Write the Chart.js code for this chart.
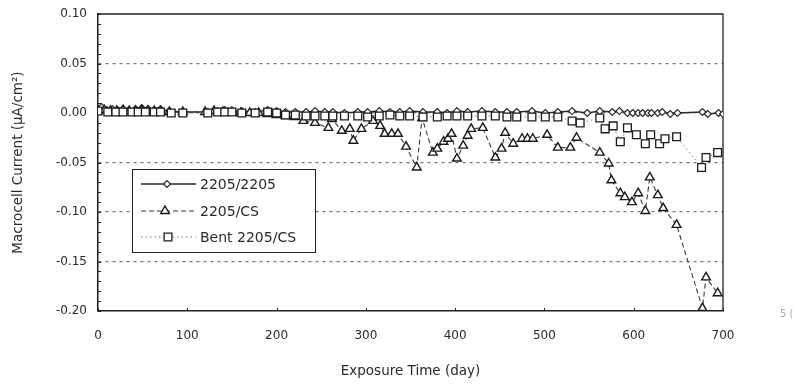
<!DOCTYPE html>
<html>
<head>
<meta charset="utf-8">
<script src="https://cdn.jsdelivr.net/npm/chart.js@4.4.1/dist/chart.umd.min.js"></script>
<style>
  html, body { margin: 0; padding: 0; background: #fff; }
  #wrap { position: relative; width: 799px; height: 388px; }
</style>
</head>
<body>
<div id="wrap"><canvas id="c" width="799" height="388"></canvas></div>
<script>
// ---- data ----
const seriesNames = ["2205/2205", "2205/CS", "Bent 2205/CS"];

const daysA = [0,4,10,16,22,28,35,42,49,56,63,70,80,95,123,134,142,150,161,176,190,200,210,221,233,243,254,263,276,291,302,315,327,338,349,364,380,391,402,414,430,445,458,469,486,501,515,531,548,562,576,584,593,599,605,610,616,620,627,632,641,649,677,683,695,700];
const valsA = [0.004,0.006,0.003,0.004,0.003,0.004,0.003,0.004,0.005,0.004,0.003,0.004,0.002,0.001,0.001,0.002,0.003,0.002,0.002,0.001,0.003,0.002,0.001,0.001,0.001,0.002,0.001,0.001,0.000,0.001,0.001,0.002,0.001,0.001,0.002,0.001,0.001,0.000,0.002,0.001,0.002,0.001,0.001,0.001,0.002,0.000,0.001,0.002,0.000,0.002,0.001,0.002,0.000,0.000,0.000,0.000,0.000,0.000,0.000,0.001,-0.001,0.000,0.001,-0.001,0.000,-0.001];

const daysB = [0,7,14,21,28,35,42,49,56,63,70,80,95,120,130,140,150,160,170,180,190,200,210,220,230,243,258,262,273,282,286,295,308,316,321,329,336,345,357,363,375,380,387,392,396,402,409,414,418,431,445,452,456,465,475,481,487,503,515,529,536,562,572,575,585,590,598,605,613,618,627,633,648,677,681,694];
const valsB = [0.002,0.003,0.002,0.002,0.003,0.002,0.002,0.003,0.002,0.002,0.001,0.001,0.001,0.001,0.002,0.001,0.001,0.000,0.000,0.000,-0.001,-0.002,-0.003,-0.004,-0.008,-0.010,-0.015,-0.006,-0.018,-0.016,-0.028,-0.016,-0.008,-0.013,-0.021,-0.021,-0.021,-0.034,-0.055,-0.005,-0.040,-0.036,-0.029,-0.026,-0.021,-0.046,-0.033,-0.023,-0.016,-0.015,-0.045,-0.036,-0.020,-0.031,-0.026,-0.026,-0.026,-0.022,-0.035,-0.035,-0.025,-0.040,-0.051,-0.068,-0.081,-0.085,-0.090,-0.081,-0.099,-0.065,-0.083,-0.096,-0.113,-0.197,-0.166,-0.182];

const daysC = [0,11,20,28,38,45,53,63,70,82,95,123,134,142,150,161,176,190,200,210,221,233,243,254,263,276,291,302,315,327,338,349,364,380,391,402,414,430,445,458,469,486,501,515,531,540,562,568,577,585,593,603,613,619,629,635,648,676,681,694];
const valsC = [0.002,0.001,0.001,0.001,0.001,0.001,0.001,0.001,0.001,0.000,0.000,0.000,0.001,0.001,0.001,0.000,0.000,0.001,0.000,-0.002,-0.002,-0.003,-0.003,-0.003,-0.003,-0.003,-0.003,-0.004,-0.003,-0.002,-0.003,-0.003,-0.004,-0.004,-0.003,-0.003,-0.003,-0.003,-0.003,-0.004,-0.004,-0.004,-0.004,-0.004,-0.008,-0.010,-0.005,-0.016,-0.013,-0.029,-0.015,-0.022,-0.031,-0.022,-0.031,-0.026,-0.024,-0.055,-0.045,-0.040];

const xTicks = [0,100,200,300,400,500,600,700];
const yTicks = [0.10,0.05,0.00,-0.05,-0.10,-0.15,-0.20];
const xTitle = "Exposure Time (day)";
const yTitle = "Macrocell Current (\u03bcA/cm\u00b2)";

// ---- build ----
const pts = (d, v) => d.map((x, i) => ({x: x, y: v[i]}));
const FONT = "'DejaVu Sans', sans-serif";
const INK = "#2a2a2a";

const datasets = [
  { label: seriesNames[0], data: pts(daysA, valsA), borderColor: "#2a2a2a", borderWidth: 1.3,
    pointStyle: "rectRot", pointRadius: 3.5, pointBackgroundColor: "#fff", pointBorderColor: "#222",
    pointBorderWidth: 1.1, order: 3, tension: 0 },
  { label: seriesNames[1], data: pts(daysB, valsB), borderColor: "#3a3a3a", borderWidth: 1.1, borderDash: [5, 3],
    pointStyle: "triangle", pointRadius: 5, pointBackgroundColor: "#fff", pointBorderColor: "#1a1a1a",
    pointBorderWidth: 1.4, order: 2, tension: 0 },
  { label: seriesNames[2], data: pts(daysC, valsC), borderColor: "#777", borderWidth: 1, borderDash: [1.5, 3],
    pointStyle: "rect", pointRadius: 5.5, pointBackgroundColor: "#fff", pointBorderColor: "#1a1a1a",
    pointBorderWidth: 1.3, order: 1, tension: 0 }
];

const framePlugin = {
  id: "frame",
  beforeDatasetsDraw(chart) {
    const {ctx, chartArea: a, scales} = chart;
    ctx.save();
    ctx.strokeStyle = "#222";
    ctx.lineWidth = 1.3;
    ctx.beginPath();
    ctx.moveTo(a.left, a.top); ctx.lineTo(a.right, a.top); ctx.lineTo(a.right, a.bottom);
    ctx.stroke();
    ctx.lineWidth = 1;
    const ys = scales.y;
    for (let v = -20; v <= 10; v++) {
      const py = Math.round(ys.getPixelForValue(v / 100)) + 0.5;
      ctx.beginPath(); ctx.moveTo(a.left, py); ctx.lineTo(a.left + 3, py); ctx.stroke();
    }
    const xs = scales.x;
    for (let v = 0; v <= 700; v += 100) {
      const px = Math.round(xs.getPixelForValue(v)) + 0.5;
      ctx.beginPath(); ctx.moveTo(px, a.bottom); ctx.lineTo(px, a.bottom - 3); ctx.stroke();
    }
    ctx.restore();
  }
};

const legendPlugin = {
  id: "boxLegend",
  afterDatasetsDraw(chart) {
    const {ctx} = chart;
    const bx = 132, by = 169, bw = 183, bh = 83;
    ctx.save();
    ctx.fillStyle = "#fff";
    ctx.fillRect(bx, by, bw, bh);
    ctx.strokeStyle = "#222";
    ctx.lineWidth = 1;
    ctx.strokeRect(bx + 0.5, by + 0.5, bw, bh);
    const rows = [184, 211, 237];
    const markX = [167, 165, 168];
    chart.data.datasets.forEach((ds, i) => {
      const y = rows[i];
      ctx.save();
      ctx.strokeStyle = ds.borderColor;
      ctx.lineWidth = ds.borderWidth;
      ctx.setLineDash(ds.borderDash || []);
      ctx.beginPath(); ctx.moveTo(141, y); ctx.lineTo(196, y); ctx.stroke();
      ctx.restore();
      ctx.save();
      ctx.fillStyle = "#fff";
      ctx.strokeStyle = ds.pointBorderColor;
      ctx.lineWidth = ds.pointBorderWidth;
      Chart.helpers.drawPoint(ctx, {pointStyle: ds.pointStyle, radius: ds.pointRadius, borderWidth: ds.pointBorderWidth, rotation: 0}, markX[i], y);
      ctx.restore();
      ctx.fillStyle = INK;
      ctx.font = "14px " + FONT;
      ctx.textBaseline = "middle";
      ctx.textAlign = "left";
      ctx.fillText(ds.label, 200, y + 1);
    });
    ctx.fillStyle = "#aaa";
    ctx.font = "10px " + FONT;
    ctx.fillText("5 (", 780, 314);
    ctx.restore();
  }
};

new Chart(document.getElementById("c"), {
  type: "line",
  data: { datasets: datasets },
  options: {
    responsive: false,
    animation: false,
    events: [],
    layout: { padding: { left: 0, right: 76, top: 14, bottom: 0 } },
    plugins: { legend: { display: false }, tooltip: { enabled: false } },
    scales: {
      x: {
        type: "linear", min: 0, max: 700,
        afterFit: s => { s.height = 77; s.paddingLeft = 0; s.paddingRight = 0; },
        afterBuildTicks: s => { s.ticks = xTicks.map(v => ({value: v})); },
        grid: { display: false, drawTicks: false },
        border: { display: true, color: "#222", width: 1.5 },
        ticks: { color: INK, font: { family: FONT, size: 12 }, padding: 18, maxRotation: 0 },
        title: { display: true, text: xTitle, color: INK, font: { family: FONT, size: 13.5 }, padding: { top: 0, bottom: 8 } }
      },
      y: {
        type: "linear", min: -0.2, max: 0.1,
        afterFit: s => { s.width = 98; s.paddingTop = 0; s.paddingBottom = 0; },
        afterBuildTicks: s => { s.ticks = yTicks.map(v => ({value: v})); },
        grid: {
          drawTicks: false,
          color: c => (Math.abs(c.tick.value - 0.1) < 1e-6 || Math.abs(c.tick.value + 0.2) < 1e-6) ? "rgba(0,0,0,0)" : "#777",
          lineWidth: 1.2
        },
        border: { display: true, color: "#222", width: 1.5, dash: [3, 4] },
        ticks: { color: INK, font: { family: FONT, size: 12 }, padding: 11, callback: v => v.toFixed(2) },
        title: { display: true, text: yTitle, color: INK, font: { family: FONT, size: 13.5 }, padding: { top: 10, bottom: 0 } }
      }
    }
  },
  plugins: [framePlugin, legendPlugin]
});
</script>
</body>
</html>
